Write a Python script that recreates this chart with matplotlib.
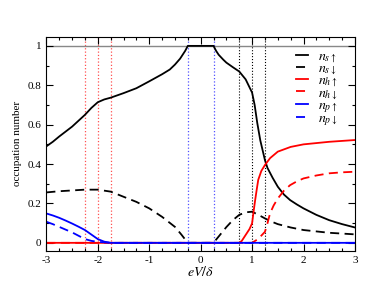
import numpy as np
import matplotlib
matplotlib.use("Agg")
import matplotlib.pyplot as plt
from matplotlib.ticker import MultipleLocator

plt.rcParams['font.family'] = ['Liberation Serif', 'DejaVu Serif']
plt.rcParams['mathtext.fontset'] = 'stix'
plt.rcParams['axes.unicode_minus'] = False

# values
x_su = [-3, -2.875, -2.75, -2.625, -2.5, -2.375, -2.25, -2.125, -2.0, -1.875, -1.75,
        -1.5, -1.25, -1.0, -0.75, -0.6, -0.5, -0.4, -0.3, -0.25,
        0.25, 0.3, 0.35, 0.44, 0.5, 0.625, 0.75, 0.875, 1.0, 1.05, 1.1, 1.16, 1.25,
        1.3, 1.4, 1.5, 1.62, 1.74, 1.87, 2.0, 2.25, 2.5, 2.75, 3.0]
y_su = [0.49, 0.513, 0.54, 0.565, 0.59, 0.62, 0.65, 0.685, 0.714, 0.728, 0.737,
        0.76, 0.785, 0.82, 0.856, 0.88, 0.905, 0.935, 0.975, 1.0,
        1.0, 0.975, 0.955, 0.93, 0.915, 0.892, 0.87, 0.83, 0.763, 0.70, 0.61, 0.52, 0.42,
        0.38, 0.33, 0.285, 0.245, 0.217, 0.195, 0.175, 0.142, 0.115, 0.095, 0.078]

x_sd = [-3, -2.75, -2.5, -2.25, -2.0, -1.75, -1.5, -1.25, -1.0, -0.75, -0.5, -0.375, -0.25,
        0.25, 0.375, 0.5, 0.625, 0.75, 0.875, 1.0, 1.125, 1.25, 1.375, 1.5, 1.75, 2.0, 2.5, 3.0]
y_sd = [0.256, 0.262, 0.266, 0.27, 0.27, 0.26, 0.234, 0.208, 0.175, 0.132, 0.081, 0.042, 0.0,
        0.0, 0.04, 0.08, 0.115, 0.142, 0.155, 0.158, 0.142, 0.124, 0.108, 0.095, 0.078, 0.065, 0.051, 0.043]

x_hu = [-3, 0.75, 0.8, 0.85, 0.9, 0.95, 1.0, 1.03, 1.06, 1.09, 1.12, 1.18, 1.25,
        1.35, 1.5, 1.75, 2.0, 2.5, 3.0]
y_hu = [0.0, 0.0, 0.01, 0.03, 0.05, 0.07, 0.099, 0.16, 0.217, 0.27, 0.32, 0.365, 0.395,
        0.43, 0.463, 0.487, 0.50, 0.513, 0.522]

x_hd = [-3, 1.0, 1.12, 1.25, 1.3, 1.35, 1.42, 1.5, 1.62, 1.74, 1.87, 2.0, 2.25, 2.5, 2.75, 3.0]
y_hd = [0.0, 0.0, 0.02, 0.056, 0.10, 0.15, 0.19, 0.225, 0.265, 0.293, 0.312, 0.327, 0.342, 0.353, 0.358, 0.361]

x_pu = [-3, -2.875, -2.75, -2.625, -2.5, -2.375, -2.25, -2.125, -2.0, -1.875, -1.75, 3.0]
y_pu = [0.149, 0.139, 0.127, 0.113, 0.098, 0.082, 0.065, 0.042, 0.019, 0.006, 0.0, 0.0]

x_pd = [-3, -2.875, -2.75, -2.625, -2.5, -2.375, -2.25, -2.125, -2.0, -1.75, 3.0]
y_pd = [0.107, 0.095, 0.081, 0.067, 0.053, 0.036, 0.019, 0.01, 0.005, 0.0, 0.0]

red_marks = [-2.25, -2.0, -1.75]
blue_marks = [-0.25, 0.25]
black_marks = [0.75, 1.0, 1.25]

fig = plt.figure(figsize=(3.74, 2.99), dpi=100)
ax = fig.add_axes([0.124, 0.1615, 0.825, 0.716])

for xv in red_marks:
    ax.axvline(xv, color='#ff5050', ls=':', lw=0.9, zorder=1)
for xv in blue_marks:
    ax.axvline(xv, color='#5050ff', ls=':', lw=0.9, zorder=1)
for xv in black_marks:
    ax.axvline(xv, color='black', ls=':', lw=0.8, zorder=1)
ax.axhline(1.0, color='#888888', lw=1.0, zorder=1)

lw = 1.3
ax.plot(x_su, y_su, color='black', lw=lw, label=r'$n_{s\uparrow}$')
ax.plot(x_sd, y_sd, color='black', lw=lw, dashes=(5, 3), label=r'$n_{s\downarrow}$')
ax.plot(x_hu, y_hu, color='red', lw=lw, label=r'$n_{h\uparrow}$')
ax.plot(x_hd, y_hd, color='red', lw=lw, dashes=(5, 3), label=r'$n_{h\downarrow}$')
ax.plot(x_pu, y_pu, color='blue', lw=lw, label=r'$n_{p\uparrow}$')
ax.plot(x_pd, y_pd, color='blue', lw=lw, dashes=(5, 3), label=r'$n_{p\downarrow}$')

ax.set_xlim(-3, 3)
ax.set_ylim(-0.04, 1.047)
ax.xaxis.set_major_locator(MultipleLocator(1))
ax.xaxis.set_minor_locator(MultipleLocator(0.25))
ax.yaxis.set_minor_locator(MultipleLocator(0.1))
ax.set_yticks([0, 0.2, 0.4, 0.6, 0.8, 1.0])
ax.set_yticklabels(['0', '0.2', '0.4', '0.6', '0.8', '1'])
ax.tick_params(which='both', direction='in', top=True, right=True, labelsize=8)
ax.tick_params(which='major', length=5, width=0.8)
ax.tick_params(which='minor', length=2.5, width=0.8)

ax.set_xlabel(r'$eV/\delta$', fontsize=10, labelpad=0)
ax.set_ylabel('occupation number', fontsize=8, labelpad=4)

ax.legend(loc='upper right', frameon=False, fontsize=10, handlelength=0.9,
          handletextpad=0.7, labelspacing=-0.2, borderaxespad=0.3,
          bbox_to_anchor=(0.975, 0.985))

fig.savefig('out.png', dpi=100)
